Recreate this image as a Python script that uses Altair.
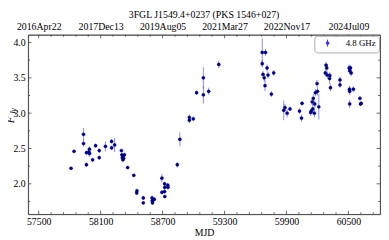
import altair as alt
import pandas as pd

mjd = [57813, 57842, 57934, 57934, 57962, 57962, 57985, 57991, 57993, 58022,
       58051, 58086, 58086, 58146, 58206, 58206, 58235, 58301, 58305, 58310,
       58318, 58322, 58330, 58315, 58361, 58421, 58449, 58451, 58513, 58513,
       58598, 58600, 58602, 58620, 58693, 58693, 58719, 58721, 58719, 58721,
       58750, 58752, 58842, 58867, 58959, 58959, 58997, 59029, 59095, 59095,
       59146, 59244,
       59665, 59665, 59697, 59672, 59685, 59692, 59712, 59721, 59754, 59776,
       59873, 59886, 59906, 59934, 60026, 60045, 60051, 60134, 60140, 60149,
       60155, 60160, 60170, 60174, 60180, 60196, 60200, 60213, 60276, 60283,
       60290, 60295, 60317, 60320, 60326, 60418, 60418, 60507, 60510, 60512,
       60520, 60527, 60512, 60512, 60548, 60611, 60617, 60624]
flux = [2.22, 2.46, 2.70, 2.57, 2.44, 2.27, 2.45, 2.49, 2.43, 2.34,
        2.54, 2.47, 2.37, 2.53, 2.60, 2.51, 2.55, 2.47, 2.41, 2.37,
        2.40, 2.36, 2.41, 2.34, 2.23, 2.12, 1.87, 1.90, 1.80, 1.73,
        1.80, 1.76, 1.73, 1.78, 2.08, 1.88, 2.00, 1.95, 1.89, 1.82,
        1.98, 1.95, 2.27, 2.63, 2.94, 2.90, 2.92, 3.29, 3.50, 3.26,
        3.31, 3.69,
        3.86, 3.70, 3.86, 3.55, 3.50, 3.39, 3.64, 3.54, 3.27, 3.57,
        3.04, 3.08, 3.00, 3.06, 3.03, 2.93, 3.14, 3.01, 3.03, 3.16,
        3.06, 3.21, 3.00, 3.13, 3.29, 3.42, 3.31, 3.09, 3.57, 3.68,
        3.64, 3.54, 3.49, 3.53, 3.36, 3.47, 3.40, 3.64, 3.34, 3.60,
        3.64, 3.57, 3.31, 3.13, 3.34, 3.21, 3.13, 3.14]
err = [0.02, 0.02, 0.09, 0.04, 0.03, 0.03, 0.05, 0.04, 0.05, 0.03,
       0.03, 0.03, 0.03, 0.07, 0.03, 0.03, 0.10, 0.02, 0.03, 0.03,
       0.02, 0.03, 0.03, 0.02, 0.02, 0.02, 0.03, 0.03, 0.03, 0.02,
       0.03, 0.03, 0.03, 0.03, 0.06, 0.03, 0.03, 0.03, 0.03, 0.02,
       0.03, 0.03, 0.04, 0.10, 0.04, 0.04, 0.03, 0.03, 0.15, 0.12,
       0.05, 0.05,
       0.20, 0.05, 0.05, 0.05, 0.05, 0.08, 0.05, 0.05, 0.04, 0.04,
       0.14, 0.05, 0.06, 0.03, 0.04, 0.05, 0.03, 0.05, 0.04, 0.05,
       0.07, 0.06, 0.06, 0.05, 0.05, 0.05, 0.06, 0.18, 0.05, 0.05,
       0.05, 0.05, 0.08, 0.05, 0.05, 0.05, 0.04, 0.05, 0.05, 0.05,
       0.04, 0.05, 0.05, 0.06, 0.04, 0.03, 0.03, 0.03]

tick_mjd = [57500, 58100, 58700, 59300, 59900, 60500]
tick_dates = ["2016Apr22", "2017Dec13", "2019Aug05", "2021Mar27", "2022Nov17", "2024Jul09"]
minor_mjd = [57620, 57740, 57860, 57980, 58220, 58340, 58460, 58580,
             58820, 58940, 59060, 59180, 59420, 59540, 59660, 59780,
             60020, 60140, 60260, 60380, 60620, 60740]
y_ticks = [2.0, 2.5, 3.0, 3.5, 4.0]
y_minor = [1.75, 2.25, 2.75, 3.25, 3.75]
band = "4.8 GHz"
title = "3FGL J1549.4+0237 (PKS 1546+027)"

df = pd.DataFrame({"MJD": mjd, "flux": flux, "err": err})
df["lo"] = df["flux"] - df["err"]
df["hi"] = df["flux"] + df["err"]
df["band"] = band

W, H = 359, 183
FONT = "Liberation Serif"
TICKC = "#444444"
xscale = alt.Scale(domain=[57397, 60806], nice=False, zero=False)
yscale = alt.Scale(domain=[1.57, 4.11], nice=False, zero=False)

expr = "''"
for v, d in reversed(list(zip(tick_mjd, tick_dates))):
    expr = f"datum.value == {v} ? '{d}' : ({expr})"

base = alt.Chart(df)

bars = base.mark_rule(color="#2a2aff", opacity=0.55, strokeWidth=1).encode(
    x=alt.X("MJD:Q", scale=xscale,
            axis=alt.Axis(values=tick_mjd, format="d", title="MJD", orient="bottom",
                          grid=False, ticks=False, labelPadding=3, titlePadding=1)),
    y=alt.Y("lo:Q", scale=yscale,
            axis=alt.Axis(values=y_ticks, format=".1f", title=None, orient="left",
                          grid=False, ticks=False, labelPadding=3)),
    y2="hi:Q",
)

sym = "M0,-1L0,1M-0.4,0A0.4,0.4,0,1,0,0.4,0A0.4,0.4,0,1,0,-0.4,0Z"
pts = base.mark_circle(size=11, opacity=1, stroke="#000060", strokeWidth=0.3).encode(
    x=alt.X("MJD:Q", axis=None),
    y=alt.Y("flux:Q", axis=None),
    color=alt.Color("band:N", scale=alt.Scale(domain=[band], range=["#00008b"]),
                    legend=alt.Legend(title=None, orient="top-right", offset=1,
                                      strokeColor="#aaaaaa", cornerRadius=3, padding=3,
                                      fillColor="white", labelFont=FONT, labelFontSize=9,
                                      labelColor="black", symbolType=sym, symbolSize=50,
                                      symbolFillColor="#00008b", symbolStrokeColor="#3030ff",
                                      symbolStrokeWidth=1, symbolOffset=6, labelOffset=14)),
)

frame = base.mark_point(opacity=0).encode(
    x=alt.X("MJD:Q", scale=xscale,
            axis=alt.Axis(values=tick_mjd, orient="top", title=None, grid=False, ticks=False,
                          labelExpr=expr, labelPadding=3)),
    y=alt.Y("flux:Q", scale=yscale,
            axis=alt.Axis(values=y_ticks, orient="right", title=None, grid=False,
                          labels=False, ticks=False)),
)


def xticks(vals, length):
    d = alt.Chart(pd.DataFrame({"v": vals}))
    enc = dict(x=alt.X("v:Q", scale=xscale, axis=None))
    bot = d.mark_rule(color=TICKC, strokeWidth=0.8).encode(
        y=alt.value(H), y2=alt.value(H - length), **enc)
    top = d.mark_rule(color=TICKC, strokeWidth=0.8).encode(
        y=alt.value(0), y2=alt.value(length), **enc)
    return [bot, top]


def yticks(vals, length):
    d = alt.Chart(pd.DataFrame({"v": vals}))
    enc = dict(y=alt.Y("v:Q", scale=yscale, axis=None))
    left = d.mark_rule(color=TICKC, strokeWidth=0.8).encode(
        x=alt.value(0), x2=alt.value(length), **enc)
    right = d.mark_rule(color=TICKC, strokeWidth=0.8).encode(
        x=alt.value(W), x2=alt.value(W - length), **enc)
    return [left, right]


tick_layers = (xticks(tick_mjd, 3.5) + xticks(minor_mjd, 2)
               + yticks(y_ticks, 3.5) + yticks(y_minor, 2))

ylab_f = alt.Chart(pd.DataFrame({"t": ["F"]})).mark_text(
    angle=270, font=FONT, fontStyle="italic", fontSize=11, color="black"
).encode(x=alt.value(-17), y=alt.value(87), text="t:N")
ylab_jy = alt.Chart(pd.DataFrame({"t": ["Jy"]})).mark_text(
    angle=270, font=FONT, fontStyle="italic", fontSize=7.5, color="black"
).encode(x=alt.value(-14.5), y=alt.value(78), text="t:N")

chart = alt.layer(bars, pts, frame, *tick_layers, ylab_f, ylab_jy).resolve_axis(
    x="independent", y="independent"
).properties(
    width=W, height=H,
    padding={"left": 20.5, "top": 25, "right": 1, "bottom": 22},
    autosize=alt.AutoSizeParams(type="none"),
    title=alt.TitleParams(title, font=FONT, fontSize=10, fontWeight="normal",
                          color="black", offset=2),
).configure_axis(
    labelFont=FONT, labelFontSize=10, labelColor="black", titleFont=FONT,
    titleFontSize=10, titleFontWeight="normal", titleColor="black",
    domainColor=TICKC, domainWidth=0.8,
).configure_legend(labelFont=FONT).configure_view(stroke=TICKC, strokeWidth=0.8)

chart.save("out.html", embed_options={"renderer": "svg", "actions": False})
